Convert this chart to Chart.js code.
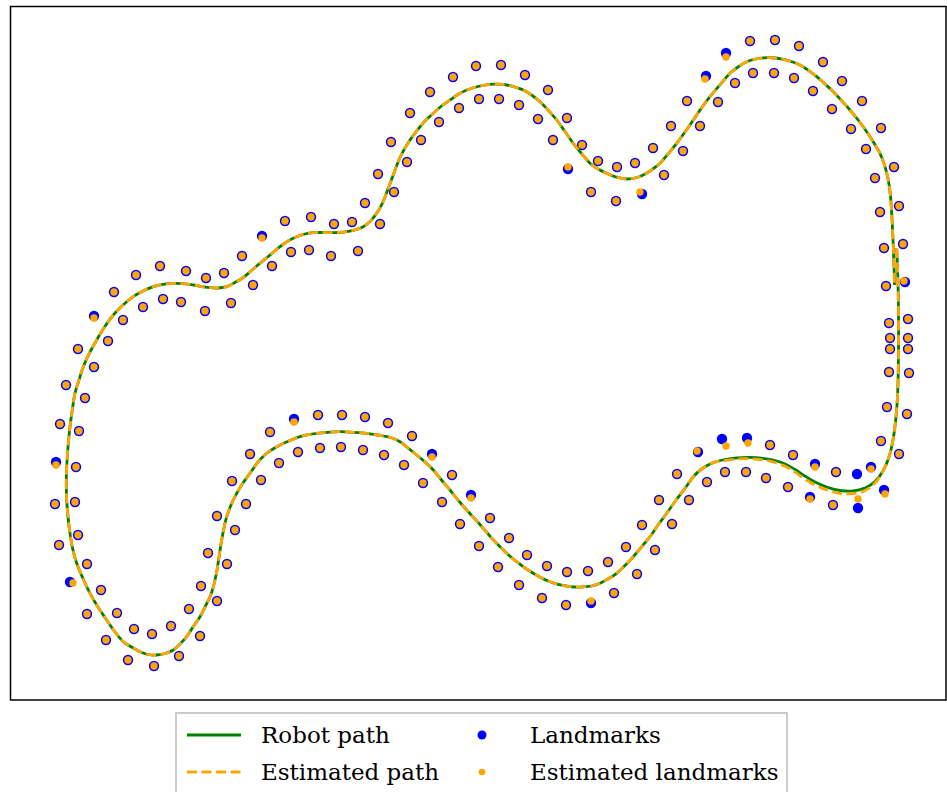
<!DOCTYPE html>
<html>
<head>
<meta charset="utf-8">
<script src="https://cdn.jsdelivr.net/npm/chart.js@4.4.1/dist/chart.umd.min.js"></script>
<style>
  html, body { margin: 0; padding: 0; background: #ffffff; }
  body { width: 947px; height: 792px; position: relative; overflow: hidden; }
  #wrap { position: absolute; left: 0; top: 0; width: 947px; height: 705px; }
  #legend { position: absolute; left: 175px; top: 712px; width: 613px; height: 90px;
            border: 2px solid #cccccc; background: #ffffff; box-sizing: border-box;
            font-family: "DejaVu Serif", serif; font-size: 23px; color: #000; }
  .item { position: absolute; height: 30px; line-height: 30px; white-space: nowrap; }
  .icon { position: absolute; }
</style>
</head>
<body>
<div id="wrap"><canvas id="c" width="947" height="705"></canvas></div>
<div id="legend">
  <svg class="icon" style="left:8px;top:14px" width="58" height="14"><line x1="2" y1="7" x2="56" y2="7" stroke="#008000" stroke-width="2.8"/></svg>
  <div class="item" style="left:84px;top:6px">Robot path</div>
  <svg class="icon" style="left:8px;top:51px" width="58" height="14"><line x1="2" y1="7" x2="56" y2="7" stroke="#ffa500" stroke-width="2.8" stroke-dasharray="10,4.5"/></svg>
  <div class="item" style="left:84px;top:43px">Estimated path</div>
  <svg class="icon" style="left:297px;top:13px" width="16" height="16"><circle cx="8" cy="8" r="4.5" fill="#0000ff"/></svg>
  <div class="item" style="left:353px;top:6px">Landmarks</div>
  <svg class="icon" style="left:297px;top:50px" width="16" height="16"><circle cx="8" cy="8" r="3.3" fill="#ffa500"/></svg>
  <div class="item" style="left:353px;top:43px">Estimated landmarks</div>
</div>
<script>
// ---- data (arbitrary map units) ----
const robotPath = [
[88.67,45.2],[88.76,43.0],[88.83,40.3],[88.86,37.0],[88.84,33.7],[88.75,30.3],[88.57,28.0],[88.3,26.0],[87.9,24.3],[87.3,22.9],
[86.5,21.85],[85.5,21.2],[84.3,20.9],[83.0,20.95],[81.8,21.25],[80.5,21.8],[79.4,22.45],[78.5,23.05],[77.5,23.6],[76.5,23.95],
[75.3,24.17],[74.0,24.27],[72.7,24.22],[71.5,24.05],[70.3,23.73],[69.3,23.2],[68.4,22.4],[67.6,21.3],[66.5,19.85],[65.67,18.67],
[64.8,17.5],[64.0,16.33],[63.15,15.3],[62.33,14.33],[61.5,13.45],[60.67,12.67],[59.8,12.1],[59.0,11.67],[58.15,11.4],[57.33,11.32],
[56.5,11.3],[55.67,11.4],[54.8,11.57],[54.0,11.83],[53.15,12.2],[52.33,12.67],[51.5,13.2],[50.67,13.83],[49.8,14.55],[49.0,15.33],
[48.15,16.2],[47.33,17.17],[46.5,18.1],[45.67,19.0],[44.8,20.0],[44.0,21.0],[43.15,22.0],[42.33,23.0],[41.5,23.8],[40.67,24.5],
[39.8,25.2],[39.0,25.83],[38.2,26.2],[37.33,26.4],[36.5,26.55],[35.67,26.67],[34.3,26.77],[33.0,26.83],[31.8,26.77],[30.67,26.67],
[29.8,26.53],[29.0,26.33],[28.0,25.95],[27.0,25.5],[26.3,25.1],[25.67,24.67],[24.8,23.8],[24.0,22.67],[23.3,21.7],[22.67,20.67],
[22.1,19.5],[21.67,18.33],[21.4,17.2],[21.17,16.0],[20.9,14.3],[20.65,12.7],[20.15,10.7],[19.5,9.3],[19.0,8.33],[18.3,7.3],
[17.67,6.33],[17.0,5.6],[16.33,5.0],[15.5,4.65],[14.67,4.5],[13.8,4.55],[13.0,4.83],[12.15,5.3],[11.33,5.83],[10.5,6.8],
[9.67,8.0],[8.8,9.3],[8.0,10.67],[7.3,12.15],[6.67,13.67],[6.25,15.2],[6.0,16.67],[5.8,18.3],[5.67,20.0],[5.63,21.7],
[5.67,23.33],[5.8,25.3],[6.0,27.33],[6.23,29.0],[6.5,30.67],[6.9,32.0],[7.33,33.33],[7.95,34.7],[8.67,36.0],[9.45,37.3],
[10.33,38.5],[11.3,39.5],[12.33,40.33],[13.3,40.9],[14.33,41.33],[15.3,41.57],[16.33,41.67],[17.3,41.63],[18.33,41.5],[19.2,41.35],
[20.0,41.23],[20.8,41.2],[21.67,41.33],[22.5,41.75],[23.25,42.2],[24.1,42.9],[25.0,43.67],[26.0,44.5],[27.0,45.33],[27.8,45.9],
[28.67,46.33],[29.5,46.6],[30.33,46.73],[31.15,46.75],[32.0,46.73],[32.8,46.75],[33.67,46.83],[34.5,47.02],[35.33,47.33],[36.05,47.9],
[36.67,48.67],[37.25,49.7],[37.8,51.1],[38.4,52.7],[39.0,54.25],[39.8,55.7],[40.67,56.9],[41.5,57.9],[42.33,58.67],[43.15,59.4],
[44.0,60.0],[44.8,60.55],[45.67,61.0],[46.8,61.35],[48.0,61.57],[48.8,61.58],[49.67,61.5],[50.5,61.3],[51.33,61.0],[52.15,60.5],
[53.0,59.83],[53.8,59.0],[54.67,58.0],[55.5,56.85],[56.33,55.67],[57.15,54.65],[58.0,53.67],[58.8,53.1],[59.67,52.67],[60.6,52.3],
[61.67,52.1],[62.5,52.2],[63.33,52.5],[64.15,53.0],[65.0,53.67],[65.8,54.6],[66.67,55.67],[67.5,56.8],[68.33,58.0],[69.15,59.2],
[70.0,60.33],[71.15,61.7],[72.0,62.67],[72.8,63.3],[73.67,63.83],[74.6,64.1],[75.67,64.23],[76.5,64.2],[77.33,64.07],[78.2,63.83],
[79.0,63.5],[79.85,62.97],[80.67,62.33],[81.5,61.6],[82.33,60.83],[83.15,59.95],[84.0,59.0],[84.85,57.95],[85.67,56.83],[86.37,55.75],
[87.0,54.67],[87.48,53.4],[87.83,52.0],[88.05,50.4],[88.17,48.67],[88.26,47.0],[88.33,45.33],[88.4,43.5],[88.45,41.5]
];
const estimatedPath = [
[88.67,45.2],[88.76,43.0],[88.83,40.3],[88.86,37.0],[88.84,33.7],[88.75,30.3],[88.57,28.0],[88.3,26.0],[87.9,24.3],[87.3,22.9],
[86.5,21.7],[85.5,20.95],[84.3,20.65],[83.0,20.67],[81.8,20.95],[80.5,21.5],[79.4,22.15],[78.5,22.8],[77.5,23.37],[76.5,23.75],
[75.3,24.0],[74.0,24.12],[72.7,24.1],[71.5,23.95],[70.3,23.73],[69.3,23.2],[68.4,22.4],[67.6,21.3],[66.5,19.85],[65.67,18.67],
[64.8,17.5],[64.0,16.33],[63.15,15.3],[62.33,14.33],[61.5,13.45],[60.67,12.67],[59.8,12.1],[59.0,11.67],[58.15,11.4],[57.33,11.32],
[56.5,11.3],[55.67,11.4],[54.8,11.57],[54.0,11.83],[53.15,12.2],[52.33,12.67],[51.5,13.2],[50.67,13.83],[49.8,14.55],[49.0,15.33],
[48.15,16.2],[47.33,17.17],[46.5,18.1],[45.67,19.0],[44.8,20.0],[44.0,21.0],[43.15,22.0],[42.33,23.0],[41.5,23.8],[40.67,24.5],
[39.8,25.2],[39.0,25.83],[38.2,26.2],[37.33,26.4],[36.5,26.55],[35.67,26.67],[34.3,26.77],[33.0,26.83],[31.8,26.77],[30.67,26.67],
[29.8,26.53],[29.0,26.33],[28.0,25.95],[27.0,25.5],[26.3,25.1],[25.67,24.67],[24.8,23.8],[24.0,22.67],[23.3,21.7],[22.67,20.67],
[22.1,19.5],[21.67,18.33],[21.4,17.2],[21.17,16.0],[20.9,14.3],[20.65,12.7],[20.15,10.7],[19.5,9.3],[19.0,8.33],[18.3,7.3],
[17.67,6.33],[17.0,5.6],[16.33,5.0],[15.5,4.65],[14.67,4.5],[13.8,4.55],[13.0,4.83],[12.15,5.3],[11.33,5.83],[10.5,6.8],
[9.67,8.0],[8.8,9.3],[8.0,10.67],[7.3,12.15],[6.67,13.67],[6.25,15.2],[6.0,16.67],[5.8,18.3],[5.67,20.0],[5.63,21.7],
[5.67,23.33],[5.8,25.3],[6.0,27.33],[6.23,29.0],[6.5,30.67],[6.9,32.0],[7.33,33.33],[7.95,34.7],[8.67,36.0],[9.45,37.3],
[10.33,38.5],[11.3,39.5],[12.33,40.33],[13.3,40.9],[14.33,41.33],[15.3,41.57],[16.33,41.67],[17.3,41.63],[18.33,41.5],[19.2,41.35],
[20.0,41.23],[20.8,41.2],[21.67,41.33],[22.5,41.75],[23.25,42.2],[24.1,42.9],[25.0,43.67],[26.0,44.5],[27.0,45.33],[27.8,45.9],
[28.67,46.33],[29.5,46.6],[30.33,46.73],[31.15,46.75],[32.0,46.73],[32.8,46.75],[33.67,46.83],[34.5,47.02],[35.33,47.33],[36.05,47.9],
[36.67,48.67],[37.25,49.7],[37.8,51.1],[38.4,52.7],[39.0,54.25],[39.8,55.7],[40.67,56.9],[41.5,57.9],[42.33,58.67],[43.15,59.4],
[44.0,60.0],[44.8,60.55],[45.67,61.0],[46.8,61.35],[48.0,61.57],[48.8,61.58],[49.67,61.5],[50.5,61.3],[51.33,61.0],[52.15,60.5],
[53.0,59.83],[53.8,59.0],[54.67,58.0],[55.5,56.85],[56.33,55.67],[57.15,54.65],[58.0,53.67],[58.8,53.1],[59.67,52.67],[60.6,52.3],
[61.67,52.1],[62.5,52.2],[63.33,52.5],[64.15,53.0],[65.0,53.67],[65.8,54.6],[66.67,55.67],[67.5,56.8],[68.33,58.0],[69.15,59.2],
[70.0,60.33],[71.15,61.7],[72.0,62.67],[72.8,63.3],[73.67,63.83],[74.6,64.1],[75.67,64.23],[76.5,64.2],[77.33,64.07],[78.2,63.83],
[79.0,63.5],[79.85,62.97],[80.67,62.33],[81.5,61.6],[82.33,60.83],[83.15,59.95],[84.0,59.0],[84.85,57.95],[85.67,56.83],[86.37,55.75],
[87.0,54.67],[87.48,53.4],[87.83,52.0],[88.05,50.4],[88.17,48.67],[88.26,47.0],[88.33,45.33],[88.4,43.5],[88.45,41.5]
];
const landmarks = [
[23.2,44.4],[25.2,46.4],[27.5,47.9],[30.1,48.3],[32.4,47.6],[34.2,47.8],[35.5,49.7],[36.8,52.6],[38.1,55.8],[40.0,58.7],
[42.0,60.8],[44.3,62.3],[46.6,63.4],[49.1,63.5],[51.5,62.5],[53.8,61.0],[55.7,58.2],[57.2,55.5],[58.8,53.9],[60.7,53.3],
[62.5,53.7],[64.3,55.2],[66.1,57.4],[67.7,59.9],[69.6,62.4],[71.6,64.7],[74.0,65.9],[76.5,66.0],[78.9,65.4],[81.3,63.8],
[83.2,61.9],[85.2,59.9],[87.1,57.2],[88.4,53.3],[88.9,49.4],[89.3,45.6],[89.5,41.8],[89.8,38.1],[89.8,36.2],[89.8,35.1],
[89.9,32.7],[89.7,28.6],[88.9,24.6],[87.4,21.0],[84.8,19.2],[82.3,19.5],[80.0,20.3],[77.8,21.3],[75.6,22.2],[73.6,22.8],
[71.5,22.8],[69.7,21.8],[67.9,20.0],[66.2,17.6],[64.5,15.0],[62.7,12.6],[60.4,10.7],[58.1,9.7],[55.6,9.5],[53.2,10.2],
[50.9,11.5],[48.8,13.3],[46.9,15.4],[45.0,17.6],[43.2,19.8],[41.3,21.7],[39.4,23.5],[37.4,24.5],[35.3,25.0],[33.1,25.3],
[31.0,25.2],[28.8,24.8],[26.9,23.7],[25.1,22.0],[23.6,19.6],[22.5,17.0],[21.7,13.6],[20.7,9.9],[19.0,6.4],[16.9,4.4],
[14.4,3.4],[11.8,4.0],[9.6,6.0],[7.7,8.6],[6.0,11.8],[4.9,15.5],[4.5,19.6],[4.6,23.8],[5.0,27.6],[5.6,31.5],
[6.8,35.1],[8.4,38.4],[10.4,40.8],[12.6,42.5],[15.0,43.4],[17.6,42.9],[19.6,42.2],[21.4,42.7],
[26.2,43.4],[28.1,44.8],[29.9,45.0],[32.1,44.4],[34.8,44.9],[37.0,47.6],[38.4,50.8],[39.7,53.8],[41.1,56.0],[42.9,57.8],
[44.9,59.2],[46.9,60.1],[48.9,60.1],[50.9,59.5],[52.8,58.1],[54.3,56.0],[55.8,53.1],[58.1,50.8],[60.6,49.9],[63.2,50.6],
[65.4,52.5],[67.3,54.9],[69.0,57.4],[70.8,59.8],[72.5,61.7],[74.3,62.7],[76.4,62.7],[78.4,62.2],[80.3,60.9],[82.2,59.1],
[84.1,57.1],[85.6,55.1],[86.5,52.2],[87.0,48.8],[87.4,45.2],[87.6,41.4],[87.9,37.7],[88.0,36.2],[88.0,35.1],[87.9,32.8],
[87.7,29.3],[87.1,25.9],[86.1,23.3],[84.7,22.6],[82.6,22.8],[80.5,23.6],[78.3,24.5],[76.0,25.5],[73.7,26.2],[71.2,26.1],
[68.8,24.8],[66.7,22.6],[64.9,20.0],[63.2,17.5],[61.6,15.3],[59.8,13.8],[57.8,12.9],[55.7,12.8],[53.7,13.4],[51.7,14.5],
[49.9,16.2],[48.0,18.2],[46.1,20.5],[44.2,22.5],[42.2,24.6],[40.2,26.4],[37.8,27.7],[35.5,28.3],[33.2,28.5],[30.8,28.5],
[28.4,28.1],[26.0,26.8],[24.0,24.6],[22.2,21.9],[20.7,18.4],[19.8,14.7],[19.1,11.4],[17.9,9.1],[16.1,7.4],[14.2,6.6],
[12.4,7.1],[10.7,8.7],[9.1,11.0],[7.7,13.6],[6.8,16.5],[6.5,19.8],[6.6,23.3],[6.9,26.9],[7.5,30.2],[8.4,33.3],
[9.8,35.9],[11.3,38.0],[13.3,39.3],[15.3,40.1],[17.1,39.8],[19.5,38.9],[22.1,39.7],[24.3,41.5]
];
const estimatedLandmarks = [
[23.2,44.4],[25.2,46.2],[27.5,47.9],[30.1,48.3],[32.4,47.6],[34.2,47.8],[35.5,49.7],[36.8,52.6],[38.1,55.8],[40.0,58.7],
[42.0,60.8],[44.3,62.3],[46.6,63.4],[49.1,63.5],[51.5,62.5],[53.8,61.0],[55.7,58.2],[57.2,55.5],[58.8,53.9],[60.7,53.3],
[62.5,53.7],[64.3,55.2],[66.1,57.4],[67.7,59.9],[69.5,62.1],[71.6,64.3],[74.0,65.9],[76.5,66.0],[78.9,65.4],[81.3,63.8],
[83.2,61.9],[85.2,59.9],[87.1,57.2],[88.4,53.3],[88.9,49.4],[89.3,45.6],[89.4,41.9],[89.8,38.1],[89.8,36.2],[89.8,35.1],
[89.9,32.7],[89.7,28.6],[88.9,24.6],[87.5,20.6],[84.8,20.1],[82.3,19.5],[80.0,20.1],[77.8,21.3],[75.6,22.2],[73.6,22.8],
[71.5,22.8],[69.7,21.8],[67.9,20.0],[66.2,17.6],[64.5,15.0],[62.7,12.6],[60.4,10.7],[58.1,9.9],[55.6,9.5],[53.2,10.2],
[50.9,11.5],[48.8,13.3],[46.9,15.4],[45.0,17.6],[43.2,19.8],[41.3,21.7],[39.4,23.5],[37.4,24.5],[35.3,25.0],[33.1,25.3],
[31.0,25.2],[28.8,24.8],[26.9,23.7],[25.1,22.0],[23.6,19.6],[22.5,17.0],[21.7,13.6],[20.7,9.9],[19.0,6.4],[16.9,4.4],
[14.4,3.4],[11.8,4.0],[9.6,6.0],[7.7,8.6],[6.3,11.7],[4.9,15.5],[4.5,19.6],[4.6,23.5],[5.0,27.6],[5.6,31.5],
[6.8,35.1],[8.4,38.2],[10.4,40.8],[12.6,42.5],[15.0,43.4],[17.6,42.9],[19.6,42.2],[21.4,42.7],
[26.2,43.4],[28.1,44.8],[29.9,45.0],[32.1,44.4],[34.8,44.9],[37.0,47.6],[38.4,50.8],[39.7,53.8],[41.1,56.0],[42.9,57.8],
[44.9,59.2],[46.9,60.1],[48.9,60.1],[50.9,59.5],[52.8,58.1],[54.3,56.0],[55.8,53.3],[58.1,50.8],[60.6,49.9],[63.0,50.8],
[65.4,52.5],[67.3,54.9],[69.0,57.4],[70.8,59.8],[72.5,61.7],[74.3,62.7],[76.4,62.7],[78.4,62.2],[80.3,60.9],[82.2,59.1],
[84.1,57.1],[85.6,55.1],[86.5,52.2],[87.0,48.8],[87.4,45.2],[87.6,41.4],[87.9,37.7],[88.0,36.2],[88.0,35.1],[87.9,32.8],
[87.7,29.3],[87.1,25.9],[86.1,23.1],[82.6,22.8],[80.5,23.3],[78.3,24.5],[76.0,25.5],[73.8,25.7],[71.6,25.4],
[68.7,24.9],[66.7,22.6],[64.9,20.0],[63.2,17.5],[61.6,15.3],[59.8,13.8],[57.8,12.9],[55.7,12.8],[53.7,13.4],[51.7,14.5],
[49.9,16.2],[48.0,18.2],[46.1,20.2],[44.2,22.5],[42.2,24.3],[40.2,26.4],[37.8,27.7],[35.5,28.3],[33.2,28.5],[30.8,28.5],
[28.4,27.8],[26.0,26.8],[24.0,24.6],[22.2,21.9],[20.7,18.4],[19.8,14.7],[19.1,11.4],[17.9,9.1],[16.1,7.4],[14.2,6.6],
[12.4,7.1],[10.7,8.7],[9.1,11.0],[7.7,13.6],[6.8,16.5],[6.5,19.8],[6.6,23.3],[6.9,26.9],[7.5,30.2],[8.4,33.3],
[9.8,35.9],[11.3,38.0],[13.3,39.3],[15.3,40.1],[17.1,39.8],[19.5,38.9],[22.1,39.7],[24.3,41.5]
];
const xRange = [0, 93.6];
const yRange = [0, 69.4];

const toXY = a => a.map(p => ({ x: p[0], y: p[1] }));

const framePlugin = {
  id: 'frame',
  afterDraw(chart) {
    const a = chart.chartArea, ctx = chart.ctx;
    ctx.save();
    ctx.strokeStyle = '#000000';
    ctx.lineWidth = 1.5;
    ctx.strokeRect(a.left + 0.5, a.top + 0.5, a.right - a.left - 0.5, a.bottom - a.top - 0.5);
    ctx.restore();
  }
};

new Chart(document.getElementById('c'), {
  type: 'scatter',
  data: {
    datasets: [
      { label: 'Estimated path', data: toXY(estimatedPath), showLine: true, borderColor: '#ffa500',
        borderWidth: 2.8, borderDash: [10, 4.5], pointRadius: 0, fill: false, tension: 0.35, order: 0 },
      { label: 'Robot path', data: toXY(robotPath), showLine: true, borderColor: '#008000',
        borderWidth: 2.8, pointRadius: 0, fill: false, tension: 0.35, order: 1 },
      { label: 'Estimated landmarks', data: toXY(estimatedLandmarks), pointRadius: 3.7,
        backgroundColor: '#ffa500', borderWidth: 0, order: 2 },
      { label: 'Landmarks', data: toXY(landmarks), pointRadius: 5.2,
        backgroundColor: '#0000ff', borderWidth: 0, order: 3 }
    ]
  },
  options: {
    responsive: false,
    animation: false,
    devicePixelRatio: 1,
    layout: { autoPadding: false, padding: { left: 10, top: 6, right: 1, bottom: 5 } },
    plugins: { legend: { display: false }, tooltip: { enabled: false } },
    scales: {
      x: { type: 'linear', min: xRange[0], max: xRange[1], display: false },
      y: { type: 'linear', min: yRange[0], max: yRange[1], display: false }
    }
  },
  plugins: [framePlugin]
});
</script>
</body>
</html>
